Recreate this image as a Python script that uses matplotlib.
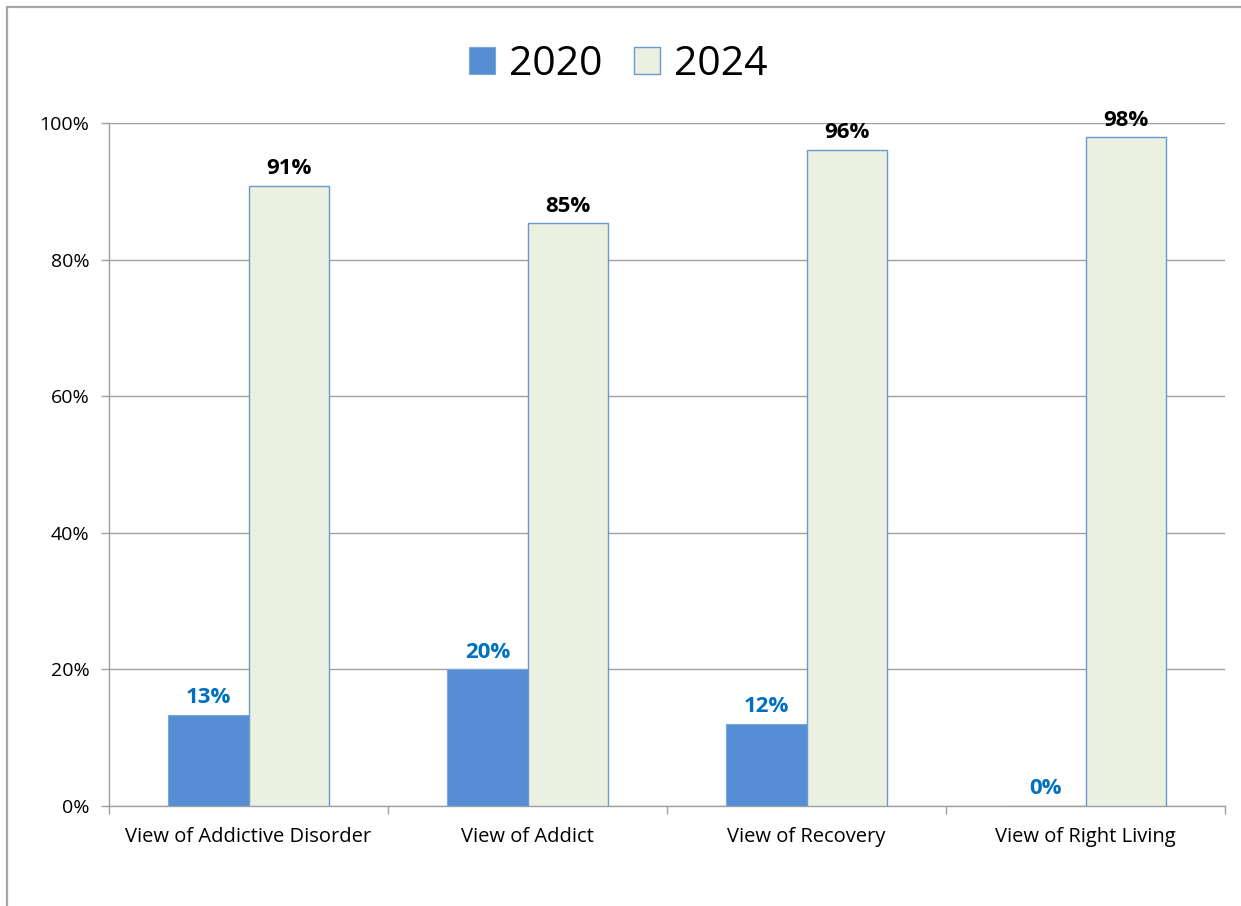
import matplotlib
matplotlib.use("Agg")
import matplotlib.pyplot as plt
from matplotlib.patches import Rectangle
import numpy as np

categories = ["View of Addictive Disorder", "View of Addict", "View of Recovery", "View of Right Living"]
series_names = ["2020", "2024"]
values_2020 = [13.3, 20.0, 12.0, 0.0]
values_2024 = [90.8, 85.3, 96.1, 97.9]
labels_2020 = ["13%", "20%", "12%", "0%"]
labels_2024 = ["91%", "85%", "96%", "98%"]
yticks = [0, 20, 40, 60, 80, 100]
ytick_labels = ["0%", "20%", "40%", "60%", "80%", "100%"]

plt.rcParams['font.family'] = ['Open Sans', 'DejaVu Sans']

W, H = 1241, 906
fig = plt.figure(figsize=(W / 100, H / 100), dpi=100)

# outer chart border (cut at right/bottom)
fig.patches.append(Rectangle((7 / W, -0.1), 2, 1 - 7 / H + 0.1, transform=fig.transFigure,
                             fill=False, edgecolor="#A6A6A6", linewidth=1.6))

left, right, top, bottom = 109, 1225, 123, 806
ax = fig.add_axes([left / W, 1 - bottom / H, (right - left) / W, (bottom - top) / H])

x = np.arange(len(categories))
bw = 0.287
c2020 = "#558ED5"
c2024 = "#EBF0E0"
edge2024 = "#6A98D0"

b1 = ax.bar(x - bw / 2, values_2020, width=bw, color=c2020, edgecolor="#7FA6DA", linewidth=0.8, zorder=3, label=series_names[0])
b2 = ax.bar(x + bw / 2, values_2024, width=bw, color=c2024, edgecolor=edge2024, linewidth=1.0, zorder=3, label=series_names[1])

for xi, v, t in zip(x, values_2020, labels_2020):
    ax.text(xi - bw / 2, v + 1.0, t, ha="center", va="bottom", fontsize=16, fontweight="bold", color="#0070C0", zorder=4)
for xi, v, t in zip(x, values_2024, labels_2024):
    ax.text(xi + bw / 2, v + 1.0, t, ha="center", va="bottom", fontsize=16, fontweight="bold", color="#000000", zorder=4)

ax.set_xlim(-0.5, len(categories) - 0.5)
ax.set_ylim(0, 100)
ax.set_yticks(yticks)
ax.set_yticklabels(ytick_labels, fontsize=14)
ax.yaxis.grid(True, color="#A0A0A0", linewidth=1.0, zorder=0)
ax.set_axisbelow(True)

ax.set_xticks(x)
ax.set_xticklabels(categories, fontsize=14.5)
ax.set_xticks(np.arange(-0.5, len(categories)), minor=True)
ax.tick_params(axis="x", which="major", length=0, pad=15)
ax.tick_params(axis="x", which="minor", length=6, color="#A0A0A0", width=1.0)
ax.tick_params(axis="y", length=6, color="#A0A0A0", width=1.0, pad=8)

for s in ["top", "right"]:
    ax.spines[s].set_visible(False)
for s in ["left", "bottom"]:
    ax.spines[s].set_color("#A0A0A0")
    ax.spines[s].set_linewidth(1.0)

leg = fig.legend(handles=[b1, b2], labels=series_names, loc="center", bbox_to_anchor=(618 / W, 1 - 65 / H),
                 ncol=2, frameon=False, fontsize=29.5, handlelength=0.63, handleheight=0.63,
                 handletextpad=0.34, columnspacing=0.78)

fig.savefig("out.png", dpi=100)
